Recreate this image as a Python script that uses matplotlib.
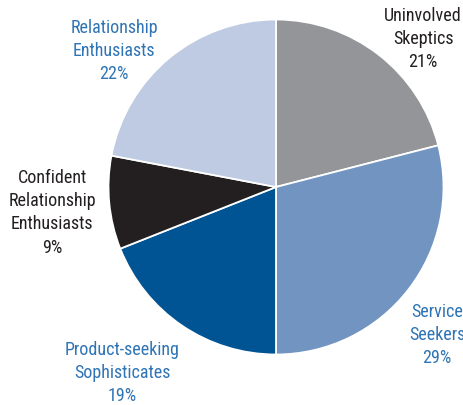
import matplotlib
matplotlib.use('Agg')
import matplotlib.pyplot as plt

# Segment shares, clockwise from 12 o'clock
segments = ['Uninvolved\nSkeptics', 'Service\nSeekers', 'Product-seeking\nSophisticates',
            'Confident\nRelationship\nEnthusiasts', 'Relationship\nEnthusiasts']
shares = [21, 29, 19, 9, 22]

colors = ['#939598', '#7294c1', '#005494', '#231f20', '#bfcbe2']
text_colors = ['#231f20', '#2f74b5', '#2f74b5', '#231f20', '#2f74b5']
# label centres in unit-radius coordinates
label_xy = [(0.878, 0.890), (0.961, -0.878), (-0.919, -1.104),
            (-1.337, -0.149), (-0.967, 0.818)]

plt.rcParams['font.family'] = ['Roboto Condensed', 'DejaVu Sans']

fig = plt.figure(figsize=(4.64, 4.06), dpi=100)
ax = fig.add_axes([0, 0, 1, 1])
R = 167.5  # pie radius in pixels
cx, cy = 276, 188
ax.pie(shares, colors=colors, startangle=90, counterclock=False, radius=1,
       wedgeprops={'edgecolor': 'white', 'linewidth': 1.3})
ax.set_xlim(-cx / R, (464 - cx) / R)
ax.set_ylim(-(406 - cy) / R, cy / R)
ax.set_aspect('auto')
ax.axis('off')

for name, share, (x, y), tc in zip(segments, shares, label_xy, text_colors):
    ax.text(x, y, '%s\n%d%%' % (name, share), ha='center', va='center',
            fontsize=13, color=tc, linespacing=1.36)

fig.savefig('out.png', dpi=100)
